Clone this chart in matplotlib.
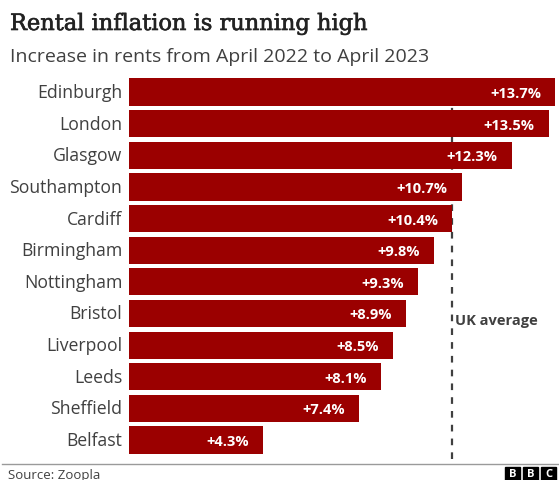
import matplotlib.pyplot as plt
import matplotlib.patheffects as pe
from matplotlib.patches import Rectangle

cities = ['Edinburgh', 'London', 'Glasgow', 'Southampton', 'Cardiff', 'Birmingham',
          'Nottingham', 'Bristol', 'Liverpool', 'Leeds', 'Sheffield', 'Belfast']
increase = [13.7, 13.5, 12.3, 10.7, 10.4, 9.8, 9.3, 8.9, 8.5, 8.1, 7.4, 4.3]
uk_average = 10.4

W, H = 559, 481
fig = plt.figure(figsize=(W / 100, H / 100), dpi=100)
sans = ['Open Sans', 'DejaVu Sans']

# axes placed in pixel terms of the reference
ax = fig.add_axes([129 / W, 1 - 460 / H, (W - 129) / W, (460 - 75) / H])
ypos = list(range(len(cities)))
ax.barh(ypos, increase, height=0.86, color='#9b0000', edgecolor='none')
ax.set_xlim(0, (W - 129) / 31.1)
ax.set_ylim(11.6, -0.57)
ax.axis('off')

for y, c, v in zip(ypos, cities, increase):
    ax.text(-0.22, y, c, ha='right', va='center', fontsize=12.7, color='#404040', family=sans)
    ax.text(v - 0.45, y + 0.03, f'+{v}%', ha='right', va='center', fontsize=10.5,
            color='white', fontweight='bold', family=sans)

ax.axvline(uk_average, color='#404040', lw=1.6, ls=(0, (3, 3.2)), zorder=0)
ax.text(uk_average + 0.08, 7.2, 'UK average', ha='left', va='center', fontsize=10.5,
        fontweight='bold', color='#404040', family=sans)

fig.text(10 / W, 1 - 25 / H, 'Rental inflation is running high', fontsize=16.2,
         family=['DejaVu Serif'], color='#222222', va='center', ha='left',
         path_effects=[pe.withStroke(linewidth=0.45, foreground='#222222')])
fig.text(10 / W, 1 - 57 / H, 'Increase in rents from April 2022 to April 2023',
         fontsize=14, family=sans, color='#404040', va='center', ha='left')

fig.add_artist(plt.Line2D([2 / W, 1], [1 - 465 / H] * 2, color='#9a9a9a', lw=1))
fig.text(8 / W, 1 - 476 / H, 'Source: Zoopla', fontsize=9.5, family=sans,
         color='#404040', va='center', ha='left')

for i, letter in enumerate('BBC'):
    x0 = 505 + i * 18
    fig.add_artist(Rectangle((x0 / W, 1 - 482 / H), 15 / W, 14 / H, color='black',
                             transform=fig.transFigure))
    fig.text((x0 + 7.5) / W, 1 - 475 / H, letter, fontsize=8, fontweight='bold',
             color='white', ha='center', va='center', family=sans)

fig.savefig('out.png', dpi=100)
